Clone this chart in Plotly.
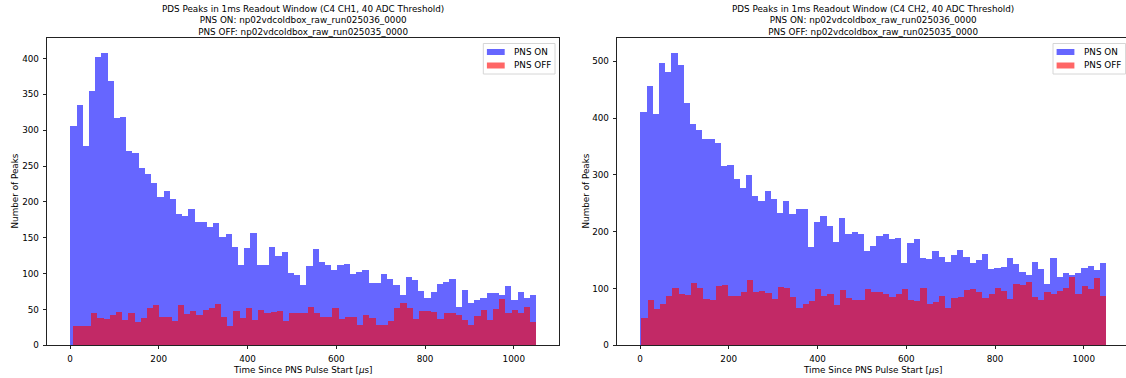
import numpy as np
import plotly.graph_objects as go

# ---------------- data ----------------
ch1_on_counts = [306, 335, 279, 355, 403, 408, 369, 318, 319, 272,
                 269, 248, 240, 227, 207, 216, 205, 183, 181, 191,
                 173, 173, 166, 171, 152, 156, 138, 112, 136, 157,
                 112, 113, 138, 125, 130, 101, 98, 84, 111, 135,
                 117, 113, 105, 113, 114, 100, 103, 105, 87, 88,
                 100, 93, 85, 70, 95, 91, 76, 66, 75, 86,
                 89, 93, 54, 78, 60, 63, 67, 74, 74, 71,
                 83, 63, 75, 66, 71]
ch1_off_counts = [28, 28, 27, 46, 38, 37, 42, 47, 36, 46,
                  33, 38, 52, 56, 40, 40, 35, 56, 44, 48,
                  42, 49, 52, 58, 40, 27, 48, 38, 52, 36,
                  49, 45, 47, 48, 34, 45, 46, 45, 54, 45,
                  40, 40, 52, 37, 40, 40, 29, 43, 39, 29,
                  29, 34, 52, 59, 52, 37, 48, 48, 47, 37,
                  46, 46, 42, 36, 29, 41, 49, 36, 51, 65,
                  46, 49, 46, 54, 33]
ch2_on_counts = [412, 458, 408, 498, 482, 516, 495, 427, 390, 379,
                 363, 363, 356, 317, 318, 294, 278, 300, 263, 254,
                 273, 259, 234, 254, 231, 240, 240, 173, 217, 228,
                 210, 182, 224, 197, 200, 197, 167, 175, 193, 197,
                 188, 190, 145, 180, 187, 155, 153, 166, 156, 148,
                 160, 168, 156, 145, 150, 162, 135, 137, 138, 154,
                 143, 130, 125, 147, 135, 108, 155, 121, 128, 125,
                 127, 136, 140, 133, 145]
ch2_off_counts = [48, 80, 64, 73, 87, 102, 91, 89, 110, 101,
                  82, 80, 105, 106, 87, 88, 94, 115, 95, 97,
                  92, 82, 104, 101, 85, 67, 74, 78, 100, 87,
                  91, 71, 98, 84, 81, 81, 100, 94, 94, 91,
                  85, 90, 100, 81, 78, 101, 74, 77, 88, 66,
                  84, 85, 98, 100, 95, 84, 90, 101, 97, 82,
                  108, 106, 112, 85, 81, 95, 90, 97, 101, 121,
                  91, 105, 100, 119, 88]

# histogram ranges (first / last peak time of each run), 75 bins each
n_bins = 75
ch1_on_range = [0.0, 1050.0]
ch1_off_range = [5.5, 1050.0]
ch2_on_range = [0.0, 1050.0]
ch2_off_range = [2.5, 1050.0]

x_ticks = [0, 200, 400, 600, 800, 1000]
ch1_y_ticks = [0, 50, 100, 150, 200, 250, 300, 350, 400]
ch2_y_ticks = [0, 100, 200, 300, 400, 500]

titles = [
    "PDS Peaks in 1ms Readout Window (C4 CH1, 40 ADC Threshold)<br>"
    "PNS ON: np02vdcoldbox_raw_run025036_0000<br>"
    "PNS OFF: np02vdcoldbox_raw_run025035_0000",
    "PDS Peaks in 1ms Readout Window (C4 CH2, 40 ADC Threshold)<br>"
    "PNS ON: np02vdcoldbox_raw_run025036_0000<br>"
    "PNS OFF: np02vdcoldbox_raw_run025035_0000",
]
x_label = "Time Since PNS Pulse Start [<i>μ</i>s]"
y_label = "Number of Peaks"
series_names = ["PNS ON", "PNS OFF"]
series_colors = ["blue", "red"]
legend_swatch = ["rgb(102,102,255)", "rgb(255,102,102)"]

# ---------------- figure ----------------
W, H = 1126, 378
FONT = "DejaVu Sans"
FS = 8.8


def bins(rng, counts):
    edges = np.linspace(rng[0], rng[1], n_bins + 1)
    centers = 0.5 * (edges[:-1] + edges[1:])
    widths = np.diff(edges)
    return centers, widths, counts


fig = go.Figure()

panels = [
    (ch1_on_counts, ch1_off_counts, ch1_on_range, ch1_off_range, "x", "y"),
    (ch2_on_counts, ch2_off_counts, ch2_on_range, ch2_off_range, "x2", "y2"),
]
for on_c, off_c, on_r, off_r, xa, ya in panels:
    for counts, rng, color, name in [(on_c, on_r, series_colors[0], series_names[0]),
                                     (off_c, off_r, series_colors[1], series_names[1])]:
        c, w, v = bins(rng, counts)
        fig.add_trace(go.Bar(x=c, y=v, width=w, name=name, marker_color=color,
                             marker_line_width=0, opacity=0.6, showlegend=False,
                             xaxis=xa, yaxis=ya))

# pixel geometry
px = lambda p: p / W
py = lambda p: 1 - p / H
ax_top, ax_bot = 37.7, 345.3
l_left, l_right = 46.7, 559.3
r_left, r_right = 616.7, 1129.9
scale = (l_right - l_left) / 1155.0  # px per unit
r_range_hi = -52.5 + (W - r_left) / scale

axis_common = dict(showgrid=False, zeroline=False, showline=True, linecolor="#222",
                   linewidth=1, ticks="outside", ticklen=3, tickwidth=1, tickcolor="#222",
                   automargin=False, ticklabelstandoff=2,
                   tickfont=dict(family=FONT, size=FS, color="#000"))

fig.update_layout(
    width=W, height=H, margin=dict(l=0, r=0, t=0, b=0),
    paper_bgcolor="white", plot_bgcolor="white",
    barmode="overlay", bargap=0, showlegend=False,
    font=dict(family=FONT, size=FS, color="#000"),
    xaxis=dict(domain=[px(l_left), px(l_right)], range=[-52.5, 1102.5], tickvals=x_ticks,
               mirror=True, anchor="y", **axis_common),
    yaxis=dict(domain=[py(ax_bot), py(ax_top)], range=[0, 429], tickvals=ch1_y_ticks,
               mirror=True, anchor="x", **axis_common),
    xaxis2=dict(domain=[px(r_left), 1.0], range=[-52.5, r_range_hi], tickvals=x_ticks,
                mirror=True, anchor="y2", **axis_common),
    yaxis2=dict(domain=[py(ax_bot), py(ax_top)], range=[0, 541.7], tickvals=ch2_y_ticks,
                mirror=False, anchor="x2", **axis_common),
)

# titles and axis labels
for title, a_l, a_r, ylab_x in [(titles[0], l_left, l_right, 14),
                                 (titles[1], r_left, r_right, 585)]:
    cx = (a_l + a_r) / 2
    fig.add_annotation(text=title, xref="paper", yref="paper", x=px(cx), y=py(20.5),
                       xanchor="center", yanchor="middle", showarrow=False,
                       font=dict(family=FONT, size=FS, color="#000"))
    fig.add_annotation(text=x_label, xref="paper", yref="paper", x=px(cx), y=py(370),
                       xanchor="center", yanchor="middle", showarrow=False,
                       font=dict(family=FONT, size=FS, color="#000"))
    fig.add_annotation(text=y_label, xref="paper", yref="paper", x=px(ylab_x),
                       y=py((ax_top + ax_bot) / 2), textangle=-90,
                       xanchor="center", yanchor="middle", showarrow=False,
                       font=dict(family=FONT, size=FS, color="#000"))

# legends (matplotlib-style: wide flat patches)
for box_l, box_r in [(483.3, 555.0), (1053.0, 1125.6)]:
    box_t, box_b = 43.5, 74.0
    fig.add_shape(type="rect", xref="paper", yref="paper",
                  x0=px(box_l), x1=px(box_r), y0=py(box_b), y1=py(box_t),
                  fillcolor="rgba(255,255,255,0.8)", line=dict(color="#d6d6d6", width=1),
                  layer="above")
    for i, (name, col) in enumerate(zip(series_names, legend_swatch)):
        cy = 52.0 + i * 13.5
        fig.add_shape(type="rect", xref="paper", yref="paper",
                      x0=px(box_l + 3.6), x1=px(box_l + 21.4),
                      y0=py(cy + 3.0), y1=py(cy - 3.0),
                      fillcolor=col, line=dict(width=0), layer="above")
        fig.add_annotation(text=name, xref="paper", yref="paper", x=px(box_l + 28.8),
                           y=py(cy), xanchor="left", yanchor="middle", showarrow=False,
                           font=dict(family=FONT, size=FS, color="#000"))

fig.write_html("out.html")
